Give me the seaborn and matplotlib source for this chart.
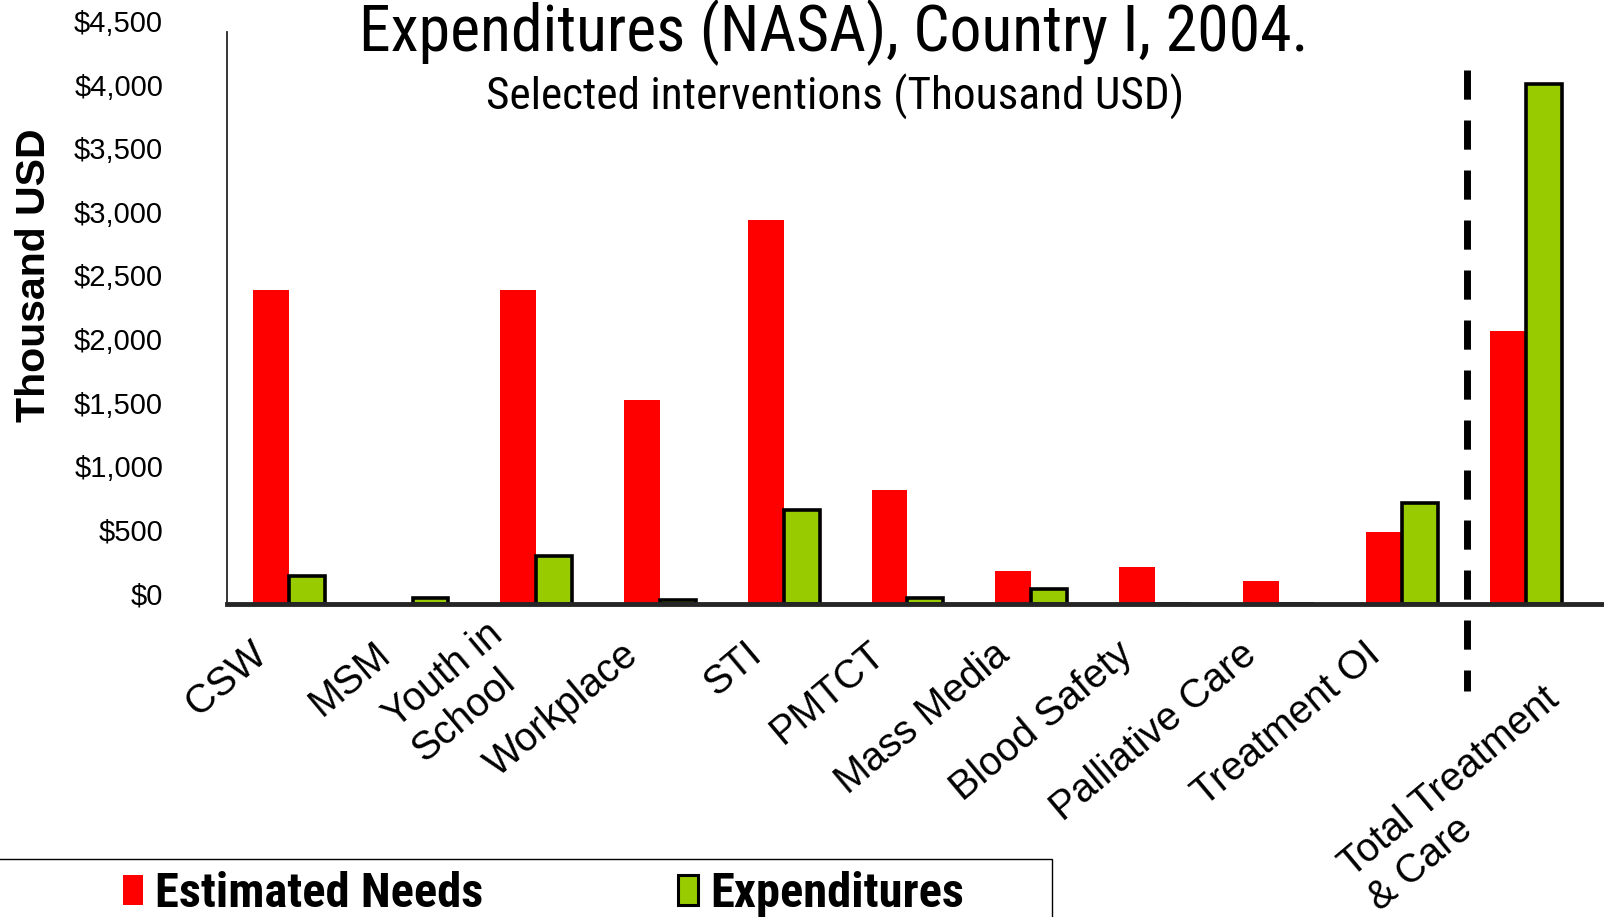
import pandas as pd
import seaborn as sns
import matplotlib.pyplot as plt
import matplotlib.transforms as mtransforms
from matplotlib import font_manager
from matplotlib.patches import Patch, Rectangle

# data (thousand USD)
categories = ['CSW', 'MSM', 'Youth in\nSchool', 'Workplace', 'STI', 'PMTCT',
              'Mass Media', 'Blood Safety', 'Palliative Care', 'Treatment OI',
              'Total Treatment\n& Care']
estimated_needs = [2470, 0, 2470, 1610, 3020, 900, 265, 290, 180, 570, 2150]
expenditures = [225, 50, 380, 30, 740, 50, 120, 0, 0, 800, 4090]
series = ['Estimated Needs', 'Expenditures']
y_ticks = [0, 500, 1000, 1500, 2000, 2500, 3000, 3500, 4000, 4500]
y_tick_labels = ['$0', '$500', '$1,000', '$1,500', '$2,000', '$2,500',
                 '$3,000', '$3,500', '$4,000', '$4,500']

df = pd.DataFrame({
    'category': categories * 2,
    'series': [series[0]] * len(categories) + [series[1]] * len(categories),
    'value': estimated_needs + expenditures,
})

sns.set_style('white')
plt.rcParams['font.family'] = ['Liberation Sans', 'DejaVu Sans']
for k in ['text.color', 'axes.labelcolor', 'xtick.color', 'ytick.color']:
    plt.rcParams[k] = 'black'


def pick_narrow():
    # the reference uses an Arial Narrow style face; take the closest one installed
    entries = font_manager.fontManager.ttflist
    names = {f.name for f in entries}
    for n in ['Liberation Sans Narrow', 'Arial Narrow', 'Noto Sans Condensed',
              'Roboto Condensed', 'Open Sans Condensed', 'DejaVu Sans Condensed']:
        if n in names:
            return n, 'normal'
    for n in sorted(names):
        if ('Narrow' in n or 'Condensed' in n) and 'Extra' not in n and 'Ultra' not in n:
            return n, 'normal'
    for f in entries:
        if str(f.stretch) == 'condensed':
            return f.name, 'condensed'
    return 'Liberation Sans', 'normal'


narrow, narrow_stretch = pick_narrow()
narrow_family = [narrow, 'DejaVu Sans']

RED = '#FF0000'
GREEN = '#99CC00'

fig = plt.figure(figsize=(16.04, 9.17), dpi=100)
ax = fig.add_axes([0.1415, 0.341, 0.8585, 0.624])

sns.barplot(data=df, x='category', y='value', hue='series', order=categories,
            palette={series[0]: RED, series[1]: GREEN}, width=0.58, gap=0,
            saturation=1, errorbar=None, legend=False, ax=ax)

for bar in ax.containers[0]:
    bar.set_linewidth(0)
for bar in ax.containers[1]:
    bar.set_edgecolor('black')
    bar.set_linewidth(2.6)

ax.set_xlim(-0.5, 10.63)
ax.set_ylim(0, 4500)
ax.set_xlabel('')
ax.set_ylabel('')

for s in ['top', 'right']:
    ax.spines[s].set_visible(False)
ax.spines['left'].set_linewidth(1.3)
ax.spines['bottom'].set_linewidth(3.5)
ax.spines['bottom'].set_zorder(5)

ax.set_yticks(y_ticks, labels=y_tick_labels, va='baseline', fontsize=21)
ax.tick_params(axis='y', direction='out', length=9, width=1.3, pad=37)

ax.set_xticks(range(len(categories)), labels=categories, rotation=40,
              ha='right', va='top', multialignment='left', fontsize=28.5)
ax.tick_params(axis='x', length=0, pad=22)
# the two wrapped labels sit differently in the original
label_nudge = {2: (0.02, 0.2), 10: (0.68, -0.45)}
for i, lab in enumerate(ax.get_xticklabels()):
    dx, dy = label_nudge.get(i, (-0.15, 0))
    shift = mtransforms.ScaledTranslation(dx, dy, fig.dpi_scale_trans)
    lab.set_transform(lab.get_transform() + shift)

# dashed separator before the total, drawn from the top down
ax.plot([9.52, 9.52], [0.934, -0.152], transform=ax.get_xaxis_transform(),
        color='black', lw=5, linestyle=(0, (4.2, 3)), solid_capstyle='butt',
        dash_capstyle='butt', clip_on=False, zorder=6)

title = fig.text(0.52, 0.944, 'Expenditures (NASA), Country I, 2004.',
                 ha='center', va='baseline', fontsize=48,
                 family=narrow_family, fontstretch=narrow_stretch)
subtitle = fig.text(0.5206, 0.88, 'Selected interventions (Thousand USD)',
                    ha='center', va='baseline', fontsize=35,
                    family=narrow_family, fontstretch=narrow_stretch)
fig.text(0.021, 0.70, 'Thousand USD', rotation=90, ha='center', va='center',
         fontsize=29.5, fontweight='bold')

# size the narrow texts to the widths seen in the reference
fig.canvas.draw()
renderer = fig.canvas.get_renderer()


def fit_size(t, target_px):
    w = t.get_window_extent(renderer).width
    return t.get_fontsize() * target_px / w


title.set_fontsize(min(fit_size(title, 950), 50))
subtitle.set_fontsize(min(fit_size(subtitle, 698), 36))

probe = fig.text(0, 0, series[0], fontsize=34, family=narrow_family,
                 fontstretch=narrow_stretch, fontweight='bold')
leg_size = min(fit_size(probe, 328), 37)
probe.remove()
em = leg_size * 100 / 72

handles = [Patch(facecolor=RED, edgecolor='none'),
           Patch(facecolor=GREEN, edgecolor='black', linewidth=2.2)]
fig.legend(handles, series, loc='lower left', bbox_to_anchor=(0.0766, 0.0),
           ncol=2, frameon=False, handlelength=20 / em, handleheight=27 / em,
           handletextpad=12.5 / em, columnspacing=194 / em, borderpad=0,
           borderaxespad=0,
           prop={'family': narrow_family, 'stretch': narrow_stretch,
                 'weight': 'bold', 'size': leg_size})
fig.add_artist(Rectangle((-0.01, -0.05), 0.666, 0.1133, transform=fig.transFigure,
                         fill=False, edgecolor='black', linewidth=1, clip_on=False))

fig.savefig('out.png', dpi=100)
